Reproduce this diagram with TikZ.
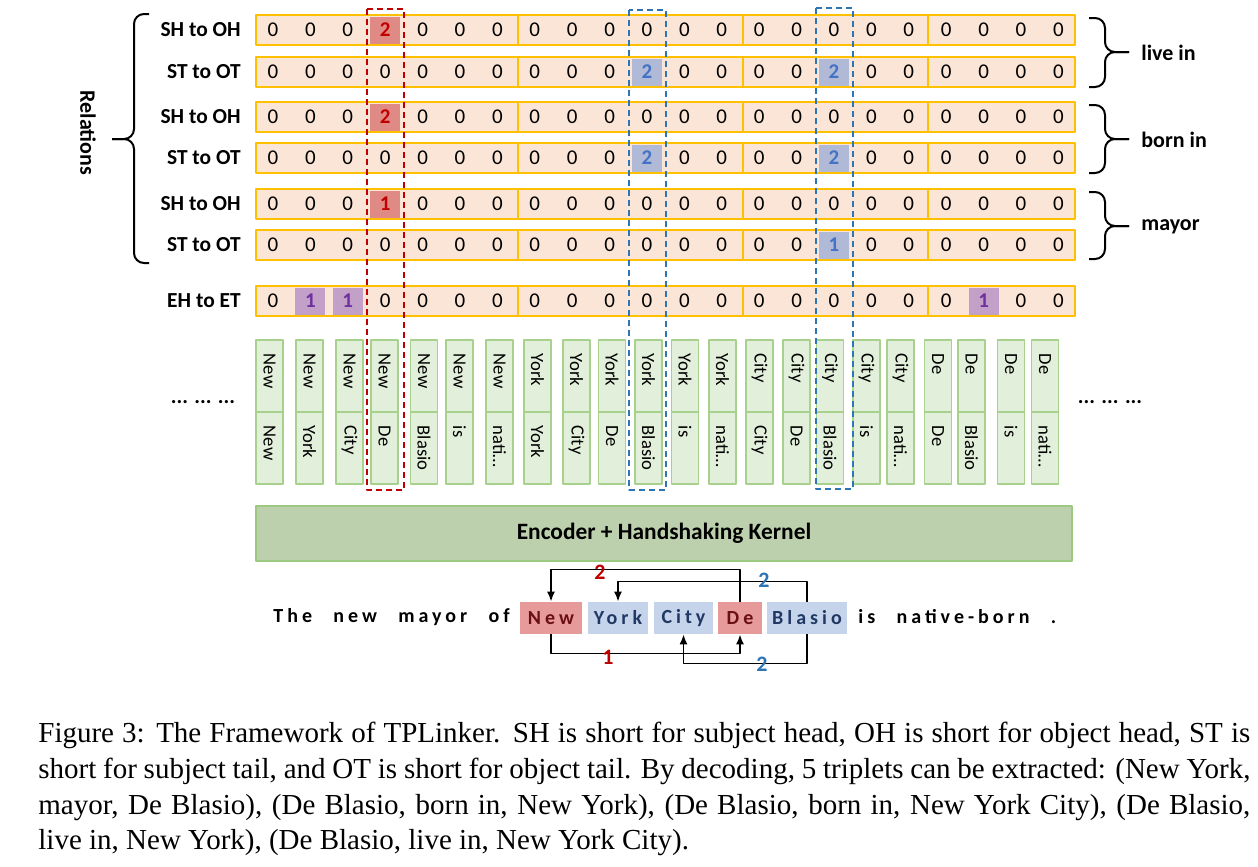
\documentclass[tikz,border=0pt]{standalone}
\usepackage{fontspec}
\setmainfont{Carlito}
\setsansfont{Carlito}
\newfontfamily\capfont{Liberation Serif}
\newfontfamily\spaced{Carlito}[LetterSpace=20, WordSpace=2.5]
\usetikzlibrary{arrows.meta}

\definecolor{barfill}{HTML}{FBE5D6}
\definecolor{barline}{HTML}{FFC000}
\definecolor{redcell}{HTML}{E08A85}
\definecolor{bluecell}{HTML}{B0BAD6}
\definecolor{purplecell}{HTML}{C3A0C8}
\definecolor{redtxt}{HTML}{C00000}
\definecolor{bluetxt}{HTML}{4472C4}
\definecolor{purpletxt}{HTML}{7030A0}
\definecolor{tokfill}{HTML}{E2EFDA}
\definecolor{tokline}{HTML}{A9D18E}
\definecolor{encfill}{HTML}{BDD0AE}
\definecolor{encline}{HTML}{9DC880}
\definecolor{dashblue}{HTML}{2E75B6}
\definecolor{wordred}{HTML}{E69A9A}
\definecolor{wordblue}{HTML}{C5D3EB}
\definecolor{wordredtxt}{HTML}{6B0F12}
\definecolor{wordbluetxt}{HTML}{1F3864}

\tikzset{
  seg/.style={draw=barline, fill=barfill, line width=1.1pt},
  zero/.style={inner sep=0pt, font=\fontsize{10.5}{12}\selectfont},
  hit/.style={minimum width=15pt, minimum height=13.5pt, inner sep=0pt, font=\fontsize{10.5}{12}\selectfont\bfseries},
  hitred/.style={hit, fill=redcell, text=redtxt},
  hitblue/.style={hit, fill=bluecell, text=bluetxt},
  hitpurple/.style={hit, fill=purplecell, text=purpletxt},
  rowlab/.style={inner sep=0pt, font=\fontsize{10.7}{12}\selectfont\bfseries},
  brlab/.style={inner sep=0pt, font=\fontsize{11}{13}\selectfont\bfseries},
  brc/.style={line width=1pt, rounded corners=5pt},
  dred/.style={draw=redtxt, dash pattern=on 3pt off 2pt, line width=0.9pt},
  dblue/.style={draw=dashblue, dash pattern=on 3pt off 2pt, line width=0.9pt},
  tok/.style={draw=tokline, fill=tokfill, line width=0.8pt, rotate=-90, anchor=west,
    minimum height=13.5pt, inner xsep=7pt, inner ysep=0pt, text width=22pt, align=left,
    font=\fontsize{9.3}{11}\selectfont},
  enc/.style={draw=encline, fill=encfill, line width=1pt, minimum width=408pt, minimum height=27.5pt,
    font=\fontsize{11.7}{13}\selectfont\bfseries},
  sent/.style={inner sep=0pt, font=\spaced\bfseries\fontsize{10}{12}\selectfont},
  word/.style={sent, minimum height=16pt},
  arr/.style={-{Latex[length=5pt,width=4pt]}, line width=0.8pt},
  num/.style={inner sep=0pt, font=\fontsize{11}{13}\selectfont\bfseries}
}

\begin{document}
\begin{tikzpicture}[x=0.5pt, y=-0.5pt, line join=round]
\useasboundingbox (0,0) rectangle (1258,867);

% tag rows
\foreach \y/\lab in {30/SH to OH, 72/ST to OT, 117/SH to OH, 158/ST to OT, 204/SH to OH, 245/ST to OT, 301/EH to ET}{
  \foreach \a/\b in {256/518, 518/743, 743/928, 928/1075}
    \draw[seg] (\a,\y-15) rectangle (\b,\y+15);
  \foreach \i in {0,...,21}
    \node[zero] (z-\y-\i) at ({273+37.4*\i},\y) {0};
  \node[rowlab, anchor=east] (lab-\y) at (241,\y) {\lab};
}

% tagged cells
\foreach \c/\y/\v/\k in {3/30/2/red, 10/72/2/blue, 15/72/2/blue, 3/117/2/red, 10/158/2/blue, 15/158/2/blue,
  3/204/1/red, 15/245/1/blue, 1/301/1/purple, 2/301/1/purple, 19/301/1/purple}
  \node[hit\k] (h-\c-\y) at ({273+37.4*\c},\y) {\v};

% braces
\draw[brc] (149,14) -- (134,14) -- (134,139) -- (112,139);
\draw[brc] (112,139) -- (134,139) -- (134,263) -- (149,263);
\node[brlab, rotate=-90] (rel) at (88,133) {Relations};
\foreach \t/\m/\b in {18/52/87, 105/139/173, 192/226/259}{
  \draw[brc] (1089,\t) -- (1105,\t) -- (1105,\m) -- (1129,\m);
  \draw[brc] (1129,\m) -- (1105,\m) -- (1105,\b) -- (1089,\b);
}
\node[brlab, anchor=west] (livein) at (1141,53) {live in};
\node[brlab, anchor=west] (bornin) at (1141,140) {born in};
\node[brlab, anchor=west] (mayor) at (1141,227) {mayor};

% token pairs
\foreach \x/\u/\l [count=\k] in {269.5/New/New, 309.5/New/York, 349.5/New/City, 384.5/New/De,
  424/New/Blasio, 459.5/New/is, 499.5/New/nati\ldots, 537.5/York/York, 576.5/York/City, 612/York/De,
  648.5/York/Blasio, 685/York/is, 722.5/York/nati\ldots, 759.5/City/City, 796.5/City/De, 830/City/Blasio,
  866.5/City/is, 900.5/City/nati\ldots, 938/De/De, 971.5/De/Blasio, 1011/De/is, 1045/De/nati\ldots}{
  \node[tok] (up\k) at (\x,339) {\u};
  \node[tok] (lo\k) at (\x,411) {\l};
}
\node[rowlab] (ldots) at (203,402) {... ... ...};
\node[rowlab] (rdots) at (1110,402) {... ... ...};

% dashed columns
\draw[dred] (367,9) rectangle (404,490);
\draw[dblue] (629,10) rectangle (666,490);
\draw[dblue] (816,8) rectangle (853,489);

\node[enc] (enc) at (664,533.5) {Encoder + Handshaking Kernel};

% sentence
\node[sent, anchor=east] (pre) at (510,617) {The new mayor of};
\node[word, fill=wordred, text=wordredtxt, minimum width=31pt] (New) at (551,618) {New};
\node[word, fill=wordblue, text=wordbluetxt, minimum width=30pt] (York) at (618,618) {York};
\node[word, fill=wordblue, text=wordbluetxt, minimum width=29.5pt] (City) at (683.5,618) {City};
\node[word, fill=wordred, text=wordredtxt, minimum width=22pt] (De) at (740,618) {De};
\node[word, fill=wordblue, text=wordbluetxt, minimum width=40pt] (Blasio) at (807,618) {Blasio};
\node[sent, anchor=west] (post) at (858,617) {is native-born .};

\draw[arr] (De.north) -- ++(0,-32) -| (New.north);
\draw[arr] (Blasio.north) -- ++(0,-20) -| (York.north);
\draw[arr] (New.south) -- ++(0,19) -| (De.south);
\draw[arr] (Blasio.south) -- ++(0,29) -| (City.south);
\node[num, text=redtxt] (n1) at (600,572) {2};
\node[num, text=dashblue] (n2) at (764,580) {2};
\node[num, text=redtxt] (n3) at (608,657) {1};
\node[num, text=dashblue] (n4) at (762,664) {2};

% caption
\node[anchor=north west, inner sep=0pt, align=left, font=\capfont\fontsize{14.5}{17.85}\selectfont] (cap) at (38,722)
{\makebox[606pt][s]{Figure 3: The Framework of TPLinker. SH is short for subject head, OH is short for object head, ST is}\\
\makebox[606pt][s]{short for subject tail, and OT is short for object tail. By decoding, 5 triplets can be extracted: (New York,}\\
\makebox[606pt][s]{mayor, De Blasio), (De Blasio, born in, New York), (De Blasio, born in, New York City), (De Blasio,}\\
live in, New York), (De Blasio, live in, New York City).};
\end{tikzpicture}
\end{document}
